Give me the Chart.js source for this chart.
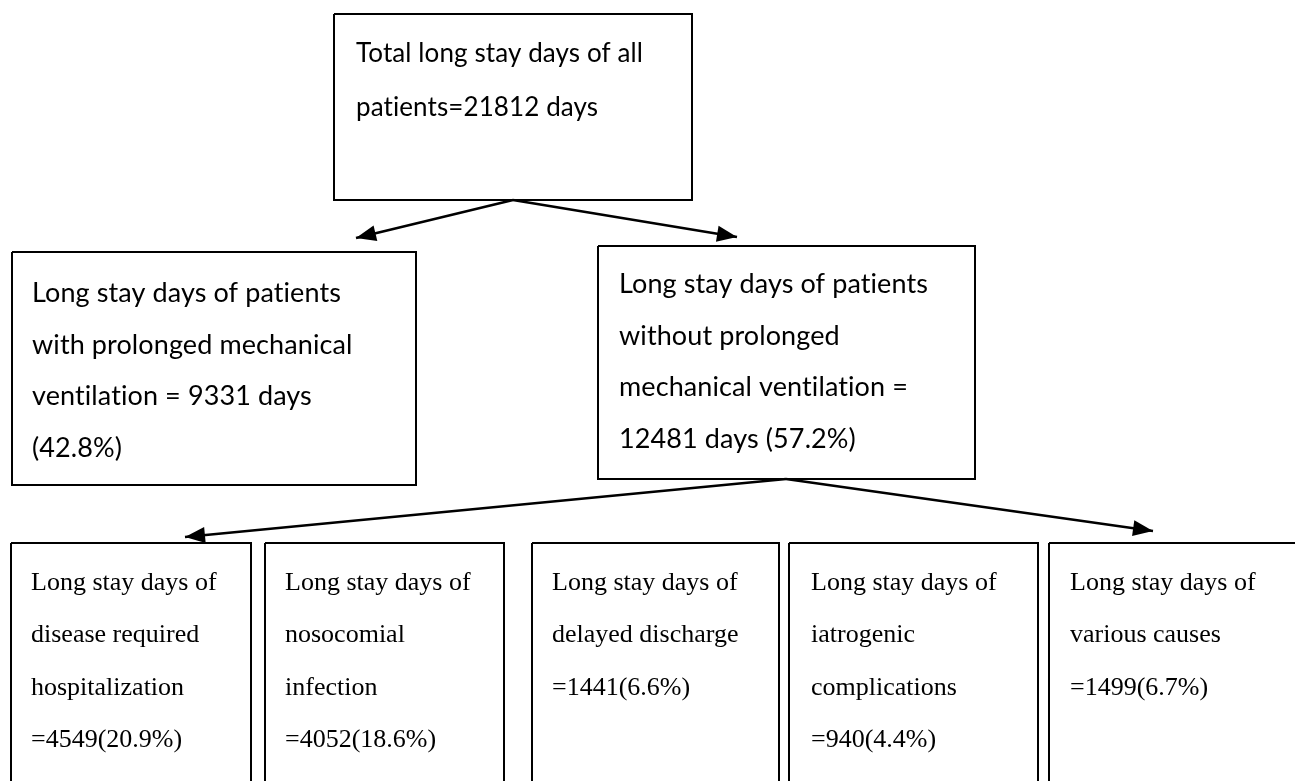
<!DOCTYPE html>
<html>
<head>
<meta charset="utf-8">
<script src="https://cdn.jsdelivr.net/npm/chart.js@4.4.0/dist/chart.umd.min.js"></script>
<style>
  html, body { margin: 0; padding: 0; background: #fff; }
  #flow { display: block; }
</style>
</head>
<body>
<canvas id="flow" width="1295" height="781"></canvas>
<script>
// ---- data ----
const totalDays = 21812;
const groupDays = [9331, 12481];
const groupPct = [42.8, 57.2];
const causeWrap = [
  ['disease required', 'hospitalization'],
  ['nosocomial', 'infection'],
  ['delayed discharge'],
  ['iatrogenic', 'complications'],
  ['various causes']
];
const causeDays = [4549, 4052, 1441, 940, 1499];
const causePct = [20.9, 18.6, 6.6, 4.4, 6.7];

// text of every box, built from the numbers above
const nodeLines = [
  ['Total long stay days of all', 'patients=' + totalDays + ' days'],
  ['Long stay days of patients', 'with prolonged mechanical', 'ventilation = ' + groupDays[0] + ' days', '(' + groupPct[0] + '%)'],
  ['Long stay days of patients', 'without prolonged', 'mechanical ventilation =', groupDays[1] + ' days (' + groupPct[1] + '%)']
];
for (var i = 0; i < causeDays.length; i++) {
  nodeLines.push(['Long stay days of'].concat(causeWrap[i], ['=' + causeDays[i] + '(' + causePct[i] + '%)']));
}

// ---- layout (scale units = page pixels) ----
// [left, top, right, bottom, textX, firstBaseline, lineGap]
const boxes = [
  [334, 14, 692, 200, 356, 62, 54],
  [12, 252, 416, 485, 32, 302, 51.7],
  [598, 246, 975, 479, 619, 293, 51.7],
  [11, 543, 251, 800, 31, 590, 52.3],
  [265, 543, 504, 800, 285, 590, 52.3],
  [532, 543, 779, 800, 552, 590, 52.3],
  [789, 543, 1038, 800, 811, 590, 52.3],
  [1049, 543, 1310, 800, 1070, 590, 52.3]
];
// arrows: from -> to
const arrows = [
  [513, 200, 356, 238],
  [513, 200, 737, 237],
  [786, 479, 185, 537],
  [786, 479, 1153, 531]
];
const topFont = '26px Lato, "Open Sans", sans-serif';
const sansFont = '27px Lato, "Open Sans", sans-serif';
const serifFont = '26px "Liberation Serif", "Times New Roman", serif';

var datasets = [];
for (var i = 0; i < boxes.length; i++) {
  var b = boxes[i];
  datasets.push({
    data: [{x: b[0], y: b[1]}, {x: b[2], y: b[1]}, {x: b[2], y: b[3]}, {x: b[0], y: b[3]}, {x: b[0], y: b[1]}],
    showLine: true, borderColor: '#000', borderWidth: 2, pointRadius: 0, tension: 0, fill: false
  });
}
for (var i = 0; i < arrows.length; i++) {
  var a = arrows[i];
  datasets.push({
    data: [{x: a[0], y: a[1]}, {x: a[2], y: a[3]}],
    showLine: true, borderColor: '#000', borderWidth: 2.5, pointRadius: 0, tension: 0, fill: false
  });
}

// arrow heads + box text
const flowPlugin = {
  id: 'flowPlugin',
  afterDatasetsDraw(chart) {
    const ctx = chart.ctx;
    const xs = chart.scales.x, ys = chart.scales.y;
    ctx.save();
    ctx.fillStyle = '#000';
    arrows.forEach(function(a) {
      var x1 = xs.getPixelForValue(a[0]), y1 = ys.getPixelForValue(a[1]);
      var x2 = xs.getPixelForValue(a[2]), y2 = ys.getPixelForValue(a[3]);
      var ang = Math.atan2(y2 - y1, x2 - x1);
      var len = 20, half = 8;
      ctx.beginPath();
      ctx.moveTo(x2, y2);
      ctx.lineTo(x2 - len * Math.cos(ang) + half * Math.sin(ang), y2 - len * Math.sin(ang) - half * Math.cos(ang));
      ctx.lineTo(x2 - len * Math.cos(ang) - half * Math.sin(ang), y2 - len * Math.sin(ang) + half * Math.cos(ang));
      ctx.closePath();
      ctx.fill();
    });
    ctx.textAlign = 'left';
    ctx.textBaseline = 'alphabetic';
    nodeLines.forEach(function(lines, i) {
      var b = boxes[i];
      ctx.font = i === 0 ? topFont : (i < 3 ? sansFont : serifFont);
      // small letter spacing keeps Lato from forming "ti" ligatures
      ctx.letterSpacing = i < 3 ? '0.1px' : '0px';
      lines.forEach(function(t, k) {
        ctx.fillText(t, xs.getPixelForValue(b[4]), ys.getPixelForValue(b[5] + k * b[6]));
      });
    });
    ctx.restore();
  }
};

var ctx = document.getElementById('flow').getContext('2d');
var flowChart = new Chart(ctx, {
  type: 'scatter',
  data: { datasets: datasets },
  options: {
    responsive: false,
    animation: false,
    events: [],
    layout: { padding: 0 },
    plugins: { legend: { display: false }, tooltip: { enabled: false } },
    scales: {
      x: { type: 'linear', min: 0, max: 1295, display: false },
      y: { type: 'linear', min: 0, max: 781, reverse: true, display: false }
    }
  },
  plugins: [flowPlugin]
});
</script>
</body>
</html>
